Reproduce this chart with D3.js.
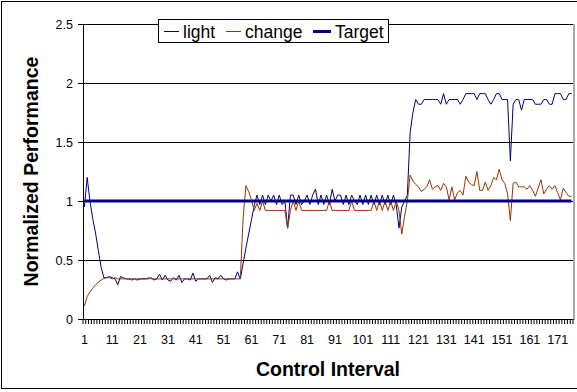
<!DOCTYPE html>
<html>
<head>
    <title>Normalized Performance</title>
    <script src="https://d3js.org/d3.v7.min.js"></script>
    <style>
        body {
            margin: 0;
            padding: 0;
            background: #ffffff;
            overflow: hidden;
        }
        text {
            font-family: "Liberation Sans", Arial, sans-serif;
            fill: #000;
        }
        .tick text { font-size: 12.5px; }
        .axis-title { font-size: 19.5px; font-weight: bold; }
        .legend text { font-size: 17.5px; }
    </style>
</head>
<body>
    <div id="chart"></div>
    <script>
        const width = 577;
        const height = 392;

        // Chart data
        const categories = d3.range(1, 177);
        const xTickLabels = [1, 11, 21, 31, 41, 51, 61, 71, 81, 91, 101, 111, 121, 131, 141, 151, 161, 171];
        const yTickValues = [0, 0.5, 1, 1.5, 2, 2.5];
        const yTickLabels = ['0', '0.5', '1', '1.5', '2', '2.5'];
        const seriesNames = ['light', 'change', 'Target'];

        const light = [
            0.95, 1.2, 1.0, 0.85, 0.73, 0.58, 0.44, 0.35, 0.35, 0.36,
            0.35, 0.34, 0.29, 0.36, 0.35, 0.34, 0.34, 0.33, 0.34, 0.33,
            0.34, 0.34, 0.34, 0.34, 0.35, 0.33, 0.34, 0.38, 0.33, 0.37,
            0.33, 0.32, 0.35, 0.33, 0.37, 0.31, 0.34, 0.34, 0.33, 0.39,
            0.32, 0.34, 0.34, 0.34, 0.34, 0.37, 0.31, 0.35, 0.34, 0.37,
            0.34, 0.33, 0.34, 0.34, 0.34, 0.40, 0.34, 0.47, 0.60, 0.72,
            0.84, 0.96, 1.05, 0.97, 1.05, 0.97, 1.05, 1.0, 1.05, 0.97,
            1.05, 0.97, 1.0, 0.77, 1.05, 1.05, 0.97, 1.05, 0.97, 1.0,
            1.05, 0.97, 1.05, 1.10, 0.97, 1.05, 0.97, 1.05, 0.97, 1.10,
            1.0, 1.05, 1.05, 0.97, 1.05, 0.97, 1.05, 1.0, 0.97, 1.05,
            0.97, 1.05, 0.97, 1.05, 0.97, 1.05, 0.97, 1.05, 0.97, 1.05,
            0.97, 1.05, 0.97, 0.77, 0.95, 1.0, 1.05, 1.58, 1.75, 1.86,
            1.82, 1.82, 1.86, 1.86, 1.86, 1.86, 1.86, 1.86, 1.82, 1.91,
            1.82, 1.86, 1.86, 1.86, 1.86, 1.82, 1.86, 1.91, 1.91, 1.91,
            1.91, 1.86, 1.91, 1.91, 1.91, 1.86, 1.82, 1.86, 1.91, 1.91,
            1.86, 1.86, 1.86, 1.34, 1.82, 1.86, 1.86, 1.77, 1.86, 1.86,
            1.86, 1.86, 1.82, 1.82, 1.82, 1.86, 1.86, 1.82, 1.82, 1.91,
            1.91, 1.91, 1.86, 1.86, 1.91, 1.91
        ];

        const change = [
            0.11, 0.19, 0.23, 0.26, 0.29, 0.31, 0.33, 0.345, 0.35, 0.35,
            0.34, 0.35, 0.34, 0.34, 0.34, 0.34, 0.34, 0.34, 0.34, 0.34,
            0.34, 0.34, 0.34, 0.35, 0.34, 0.34, 0.34, 0.34, 0.34, 0.34,
            0.34, 0.34, 0.34, 0.34, 0.34, 0.34, 0.34, 0.34, 0.34, 0.34,
            0.34, 0.34, 0.34, 0.34, 0.34, 0.34, 0.34, 0.34, 0.34, 0.34,
            0.34, 0.34, 0.34, 0.34, 0.34, 0.34, 0.34, 0.85, 1.13, 1.08,
            1.01, 0.92, 0.98, 0.92, 1.0, 0.92, 0.92, 0.92, 0.92, 0.92,
            0.92, 0.92, 0.92, 0.77, 0.92, 1.0, 0.92, 1.0, 0.92, 0.92,
            0.92, 0.92, 0.92, 0.92, 0.92, 0.92, 0.92, 0.92, 1.0, 0.92,
            0.92, 0.92, 0.92, 0.92, 0.92, 0.92, 1.0, 0.92, 0.92, 0.92,
            0.92, 0.92, 0.92, 0.92, 1.0, 0.92, 1.0, 0.92, 1.0, 0.92,
            1.0, 0.92, 1.0, 0.92, 0.72, 0.87, 1.0, 1.22, 1.17, 1.14,
            1.12, 1.08, 1.10, 1.12, 1.18, 1.10, 1.12, 1.13, 1.09, 1.15,
            1.12, 1.01, 1.12, 1.01, 1.07, 1.09, 1.05, 1.21, 1.16, 1.14,
            1.13, 1.25, 1.09, 1.09, 1.16, 1.09, 1.13, 1.20, 1.18, 1.27,
            1.18, 1.15, 1.06, 0.835, 1.15, 1.16, 1.12, 1.12, 1.12, 1.10,
            1.13, 1.09, 1.04, 1.11, 1.18, 1.06, 1.10, 1.13, 1.10, 1.13,
            1.07, 1.01, 1.11, 1.07, 1.04, 1.04
        ];

        const target = [
            1, 1, 1, 1, 1, 1, 1, 1, 1, 1, 1, 1, 1, 1, 1, 1, 1, 1, 1, 1,
            1, 1, 1, 1, 1, 1, 1, 1, 1, 1, 1, 1, 1, 1, 1, 1, 1, 1, 1, 1,
            1, 1, 1, 1, 1, 1, 1, 1, 1, 1, 1, 1, 1, 1, 1, 1, 1, 1, 1, 1,
            1, 1, 1, 1, 1, 1, 1, 1, 1, 1, 1, 1, 1, 1, 1, 1, 1, 1, 1, 1,
            1, 1, 1, 1, 1, 1, 1, 1, 1, 1, 1, 1, 1, 1, 1, 1, 1, 1, 1, 1,
            1, 1, 1, 1, 1, 1, 1, 1, 1, 1, 1, 1, 1, 1, 1, 1, 1, 1, 1, 1,
            1, 1, 1, 1, 1, 1, 1, 1, 1, 1, 1, 1, 1, 1, 1, 1, 1, 1, 1, 1,
            1, 1, 1, 1, 1, 1, 1, 1, 1, 1, 1, 1, 1, 1, 1, 1, 1, 1, 1, 1,
            1, 1, 1, 1, 1, 1, 1, 1, 1, 1, 1, 1, 1, 1, 1, 1
        ];

        const seriesColors = ['#000080', '#993300', '#000080'];
        const seriesWidths = [1, 1, 3];

        // Plot area
        const plotLeft = 83;
        const plotRight = 573;
        const plotTop = 24;
        const plotBottom = 319;

        // Create SVG
        const svg = d3.select('#chart')
            .append('svg')
            .attr('width', width)
            .attr('height', height);

        // Chart border
        svg.append('rect')
            .attr('x', 1.5)
            .attr('y', 1.5)
            .attr('width', 620)
            .attr('height', 387)
            .attr('fill', '#fff')
            .attr('stroke', '#000');

        const x = d3.scaleBand()
            .domain(categories)
            .range([plotLeft, plotRight]);

        const y = d3.scaleLinear()
            .domain([0, 2.5])
            .range([plotBottom, plotTop]);

        const cx = d => x(d) + x.bandwidth() / 2;

        // Plot area right border
        svg.append('line')
            .attr('x1', plotRight + 1)
            .attr('x2', plotRight + 1)
            .attr('y1', plotTop)
            .attr('y2', plotBottom + 1)
            .attr('stroke', '#a8a8a8')
            .attr('stroke-width', 2);

        // Gridlines
        svg.append('g')
            .selectAll('line')
            .data(yTickValues.slice(1))
            .join('line')
            .attr('x1', plotLeft)
            .attr('x2', plotRight)
            .attr('y1', d => y(d) + 0.5)
            .attr('y2', d => y(d) + 0.5)
            .attr('stroke', '#000')
            .attr('stroke-width', 1);

        // Y axis
        const yAxis = svg.append('g')
            .attr('transform', `translate(${plotLeft},0)`)
            .call(d3.axisLeft(y)
                .tickValues(yTickValues)
                .tickFormat((d, i) => yTickLabels[i])
                .tickSize(5)
                .tickSizeOuter(0)
                .tickPadding(5));
        yAxis.selectAll('path, line').attr('stroke', '#000');

        // X axis: labels centred on categories
        const xAxis = svg.append('g')
            .attr('transform', `translate(0,${plotBottom})`)
            .call(d3.axisBottom(x)
                .tickValues(xTickLabels)
                .tickSize(0)
                .tickSizeOuter(0)
                .tickPadding(16));
        xAxis.select('.domain').attr('stroke', '#000');

        // X tick marks between categories
        svg.append('g')
            .selectAll('line')
            .data(categories.concat([null]))
            .join('line')
            .attr('x1', d => d === null ? plotRight : x(d))
            .attr('x2', d => d === null ? plotRight : x(d))
            .attr('y1', plotBottom + 0.5)
            .attr('y2', plotBottom + 5)
            .attr('stroke', '#000')
            .attr('stroke-width', 1);

        // Series lines
        const line = d3.line()
            .x((d, i) => cx(categories[i]))
            .y(d => y(d));

        [light, change, target].forEach((values, k) => {
            svg.append('path')
                .datum(values)
                .attr('fill', 'none')
                .attr('stroke', seriesColors[k])
                .attr('stroke-width', seriesWidths[k])
                .attr('d', line);
        });

        // Axis titles
        svg.append('text')
            .attr('class', 'axis-title')
            .attr('x', (plotLeft + plotRight) / 2)
            .attr('y', 376)
            .attr('text-anchor', 'middle')
            .text('Control Interval');

        svg.append('text')
            .attr('class', 'axis-title')
            .attr('transform', `translate(38,${(plotTop + plotBottom) / 2}) rotate(-90)`)
            .attr('text-anchor', 'middle')
            .text('Normalized Performance');

        // Legend
        const legend = svg.append('g').attr('class', 'legend');
        legend.append('rect')
            .attr('x', 158.5)
            .attr('y', 19.5)
            .attr('width', 230)
            .attr('height', 23)
            .attr('fill', '#fff')
            .attr('stroke', '#000');

        const legendX = [164, 226, 313];
        const legendLen = [15, 15, 18];
        seriesNames.forEach((name, k) => {
            legend.append('line')
                .attr('x1', legendX[k])
                .attr('x2', legendX[k] + legendLen[k])
                .attr('y1', 31.5)
                .attr('y2', 31.5)
                .attr('stroke', seriesColors[k])
                .attr('stroke-width', seriesWidths[k]);
            legend.append('text')
                .attr('x', legendX[k] + legendLen[k] + 4)
                .attr('y', 37.5)
                .text(name);
        });
    </script>
</body>
</html>
